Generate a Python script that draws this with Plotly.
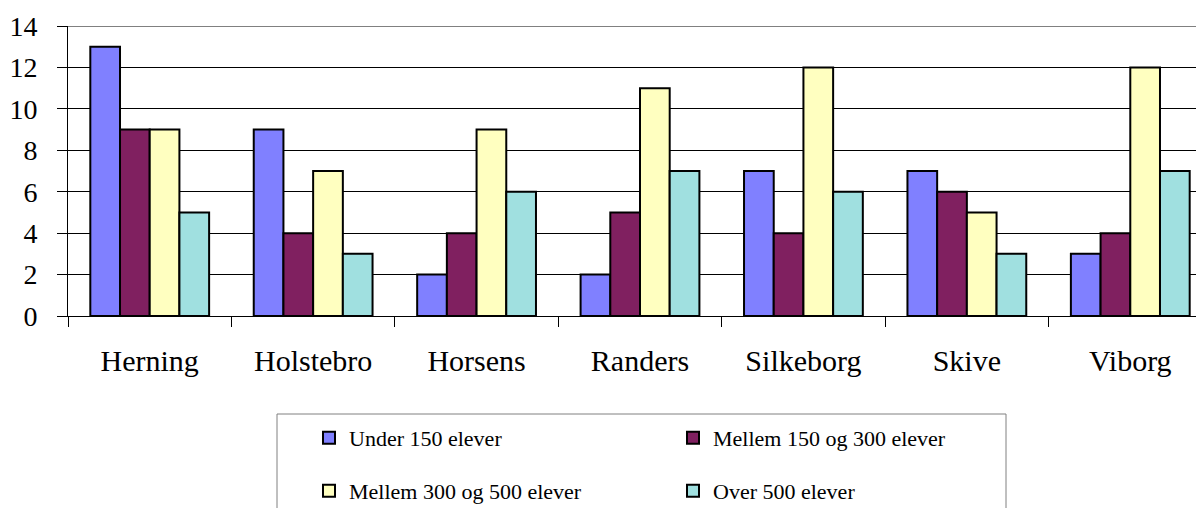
import plotly.graph_objects as go

categories = ["Herning", "Holstebro", "Horsens", "Randers", "Silkeborg", "Skive", "Viborg"]
series_names = ["Under 150 elever", "Mellem 150 og 300 elever", "Mellem 300 og 500 elever", "Over 500 elever"]
under_150 = [13, 9, 2, 2, 7, 7, 3]
mellem_150_300 = [9, 4, 4, 5, 4, 6, 4]
mellem_300_500 = [9, 7, 9, 11, 12, 5, 12]
over_500 = [5, 3, 6, 7, 6, 3, 7]
y_ticks = [0, 2, 4, 6, 8, 10, 12, 14]

series_values = [under_150, mellem_150_300, mellem_300_500, over_500]
colors = ["#8080FF", "#802060", "#FFFFC0", "#A0E0E0"]
legend_ids = ["legend", "legend2", "legend3", "legend4"]

# page body adds an 8px offset; screen-pixel helpers account for it
OFF = 8
W, H = 1204, 508
ML, MR, MT, MB = 60, 0, 18, 200
PW = W - ML - MR
PH = H - MT - MB

def px_x(p):
    return (p - OFF - ML) / PW

def px_y(p):
    return (OFF + H - MB - p) / PH

font_family = "Liberation Serif"

fig = go.Figure()
for name, vals, col, lg in zip(series_names, series_values, colors, legend_ids):
    fig.add_trace(go.Bar(
        x=categories, y=vals, name=name, legend=lg,
        marker=dict(color=col, line=dict(color="#000000", width=2)),
    ))

# legend entry positions (screen px): text start x, row centre y
legend_pos = [(350, 438), (714, 438), (350, 491), (714, 491)]
legend_layout = {}
for lg, (tx, ty) in zip(legend_ids, legend_pos):
    legend_layout[lg] = dict(
        orientation="h", x=px_x(tx - 41), xanchor="left", y=px_y(ty), yanchor="middle",
        font=dict(size=22, family=font_family, color="#000000"),
        bgcolor="rgba(0,0,0,0)", borderwidth=0, itemclick=False,
    )

fig.update_layout(
    template="none",
    width=W, height=H, autosize=False,
    margin=dict(l=ML, r=MR, t=MT, b=MB, pad=0, autoexpand=False),
    paper_bgcolor="white", plot_bgcolor="white",
    barmode="group", bargap=0.273, bargroupgap=0,
    font=dict(family=font_family, color="#000000"),
    xaxis=dict(
        type="category", range=[-0.5, len(categories) - 0.5], tickson="boundaries",
        ticks="outside", ticklen=10, tickcolor="#000000", tickwidth=1,
        showline=True, linecolor="#000000", linewidth=1,
        showgrid=False, zeroline=False, automargin=False,
        tickfont=dict(size=30, family=font_family, color="#000000"),
        ticklabelstandoff=18,
    ),
    yaxis=dict(
        range=[0, 14], tickvals=y_ticks, ticks="outside", ticklen=10,
        tickcolor="#000000", tickwidth=1,
        showline=True, linecolor="#000000", linewidth=1,
        showgrid=True, gridcolor="#000000", gridwidth=1, zeroline=False,
        automargin=False,
        tickfont=dict(size=28, family=font_family, color="#000000"),
        ticklabelstandoff=14,
    ),
    shapes=[
        dict(type="line", xref="paper", yref="y", x0=0, x1=1, y0=14, y1=14,
             line=dict(color="#808080", width=2), layer="above"),
        dict(type="rect", xref="paper", yref="paper",
             x0=px_x(277), x1=px_x(1006), y0=px_y(414), y1=px_y(560),
             line=dict(color="#808080", width=1)),
    ],
    showlegend=True,
    **legend_layout,
)

fig.write_html("out.html")
